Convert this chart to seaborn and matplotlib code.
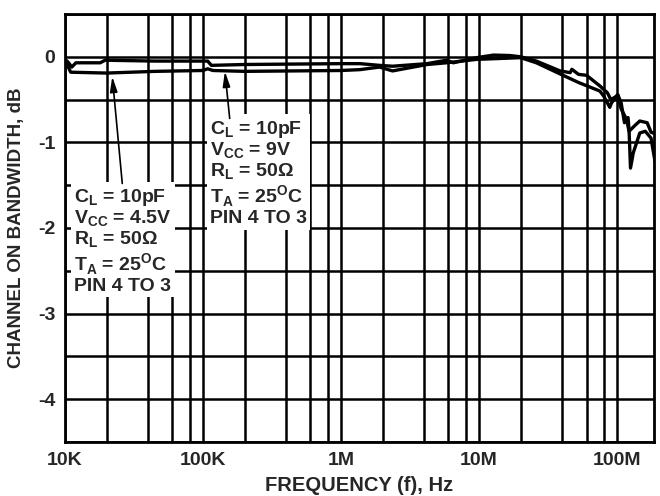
import seaborn as sns
import matplotlib.pyplot as plt
import matplotlib.ticker as mticker
import pandas as pd

# curve: VCC = 4.5V
freq_45 = [1.0e4, 1.1e4, 2.0e4, 4.5e4, 1.0e5, 1.08e5, 1.18e5, 2.0e5, 1.0e6, 1.37e6,
           1.9e6, 2.36e6, 4.2e6, 5.8e6, 9.6e6, 1.4e7, 2.0e7, 2.6e7, 3.86e7, 5.25e7,
           7.5e7, 8.0e7, 8.85e7, 9.1e7, 1.01e8, 1.07e8, 1.13e8, 1.2e8, 1.22e8, 1.25e8,
           1.31e8, 1.46e8, 1.6e8, 1.76e8, 1.88e8]
db_45 = [-0.04, -0.18, -0.19, -0.17, -0.16, -0.14, -0.16, -0.17, -0.16, -0.15,
         -0.12, -0.165, -0.09, -0.07, -0.03, -0.02, -0.01, -0.07, -0.2, -0.3,
         -0.4, -0.46, -0.59, -0.54, -0.44, -0.54, -0.77, -0.71, -0.85, -1.30,
         -1.12, -0.89, -0.87, -0.95, -1.22]

# curve: VCC = 9V
freq_9 = [1.0e4, 1.05e4, 1.12e4, 1.2e4, 1.8e4, 1.95e4, 4.5e4, 1.0e5, 1.08e5, 1.15e5,
          2.0e5, 1.0e6, 1.37e6, 1.9e6, 2.36e6, 4.2e6, 5.8e6, 6.5e6, 9.6e6, 1.27e7,
          1.67e7, 2.0e7, 2.6e7, 3.86e7, 4.57e7, 4.7e7, 5.25e7, 6.0e7, 7.5e7, 8.5e7,
          9.0e7, 9.7e7, 1.01e8, 1.07e8, 1.17e8, 1.22e8, 1.35e8, 1.46e8, 1.65e8, 1.76e8,
          1.88e8]
db_9 = [-0.03, -0.06, -0.12, -0.07, -0.07, -0.04, -0.05, -0.05, -0.05, -0.1,
        -0.09, -0.08, -0.08, -0.1, -0.11, -0.08, -0.04, -0.07, -0.01, 0.02,
        0.015, 0.0, -0.05, -0.165, -0.185, -0.146, -0.205, -0.216, -0.34, -0.42,
        -0.5, -0.47, -0.45, -0.61, -0.73, -0.87, -0.8, -0.75, -0.77, -0.88,
        -0.9]

x_ticks = [1e4, 1e5, 1e6, 1e7, 1e8]
x_labels = ["10K", "100K", "1M", "10M", "100M"]
y_ticks = [0, -1, -2, -3, -4]

note_45 = ("C$_\\mathregular{L}$ = 10pF\nV$_\\mathregular{CC}$ = 4.5V\n"
           "R$_\\mathregular{L}$ = 50Ω\nT$_\\mathregular{A}$ = 25$^\\mathregular{O}$C\nPIN 4 TO 3")
note_9 = ("C$_\\mathregular{L}$ = 10pF\nV$_\\mathregular{CC}$ = 9V\n"
          "R$_\\mathregular{L}$ = 50Ω\nT$_\\mathregular{A}$ = 25$^\\mathregular{O}$C\nPIN 4 TO 3")

df = pd.concat([
    pd.DataFrame({"freq": freq_45, "db": db_45, "curve": "4.5V"}),
    pd.DataFrame({"freq": freq_9, "db": db_9, "curve": "9V"}),
])

sns.set_style("white")
plt.rcParams["font.family"] = ["Liberation Sans", "DejaVu Sans"]
plt.rcParams["font.weight"] = "bold"
plt.rcParams["mathtext.fontset"] = "custom"
plt.rcParams["mathtext.rm"] = "Liberation Sans:bold"
plt.rcParams["mathtext.bf"] = "Liberation Sans:bold"
plt.rcParams["axes.unicode_minus"] = False

fig, ax = plt.subplots(figsize=(6.6, 4.96), dpi=100)
fig.subplots_adjust(left=65 / 660, right=654 / 660, top=1 - 14 / 496, bottom=1 - 442 / 496)

ax.set_xscale("log")
sns.lineplot(data=df, x="freq", y="db", units="curve", estimator=None,
             color="black", linewidth=2.4, ax=ax, zorder=5)

ax.set_xlim(1e4, 1.85e8)
ax.set_ylim(-4.5, 0.5)

ax.xaxis.set_major_locator(mticker.FixedLocator(x_ticks))
ax.xaxis.set_major_formatter(mticker.FixedFormatter(x_labels))
ax.xaxis.set_minor_locator(mticker.LogLocator(base=10, subs=[2, 4, 6, 8]))
ax.xaxis.set_minor_formatter(mticker.NullFormatter())
ax.yaxis.set_major_locator(mticker.FixedLocator(y_ticks))
ax.yaxis.set_major_formatter(mticker.FuncFormatter(lambda v, p: f"{v:g}"))
ax.yaxis.set_minor_locator(mticker.MultipleLocator(0.5))

ax.grid(which="both", color="black", linewidth=1.8)
ax.set_axisbelow(True)
ax.tick_params(which="both", length=0, labelsize=14, pad=7)
for lab in ax.get_xticklabels() + ax.get_yticklabels():
    lab.set_fontweight("bold")
for sp in ax.spines.values():
    sp.set_linewidth(2)
    sp.set_color("black")

ax.set_xlabel("FREQUENCY (f), Hz", fontsize=14.5, fontweight="bold", labelpad=5)
ax.set_ylabel("CHANNEL ON BANDWIDTH, dB", fontsize=13.5, fontweight="bold", labelpad=9)

box = dict(boxstyle="square,pad=0.15", facecolor="white", edgecolor="none")
ax.text(1.17e4, -1.52, note_45, fontsize=14, fontweight="bold", ha="left", va="top",
        linespacing=1.05, bbox=box, zorder=4)
ax.text(1.12e5, -0.73, note_9, fontsize=14, fontweight="bold", ha="left", va="top",
        linespacing=1.05, bbox=box, zorder=4)

arrow = dict(arrowstyle="-|>,head_length=0.9,head_width=0.22", color="black",
             lw=1.2, shrinkA=0, shrinkB=0)
ax.annotate("", xy=(2.2e4, -0.23), xytext=(2.6e4, -1.48), arrowprops=arrow, zorder=6)
ax.annotate("", xy=(1.44e5, -0.17), xytext=(1.56e5, -0.72), arrowprops=arrow, zorder=6)

fig.savefig("out.png", dpi=100, facecolor="white")
